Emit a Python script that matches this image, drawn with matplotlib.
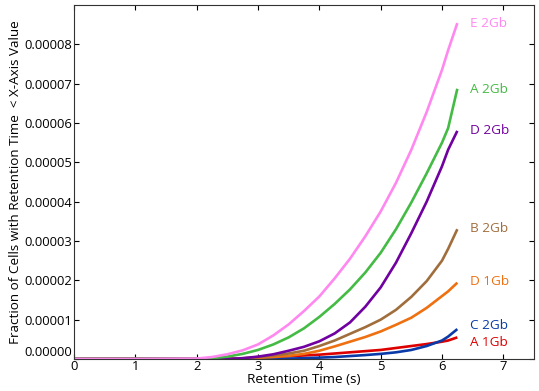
import matplotlib
matplotlib.use("Agg")
import matplotlib.pyplot as plt
import numpy as np

plt.rcParams['font.family'] = ['Open Sans', 'DejaVu Sans']

# Retention time grid (s) and series values (units of 1e-5)
x_vals = [0.0, 1.0, 2.0, 2.25, 2.5, 2.75, 3.0, 3.25, 3.5, 3.75, 4.0, 4.25,
          4.5, 4.75, 5.0, 5.25, 5.5, 5.75, 6.0, 6.1, 6.25]
series = {
    "E 2Gb": [0, 0, 0.01, 0.05, 0.12, 0.22, 0.37, 0.60, 0.88, 1.22, 1.59, 2.05,
              2.55, 3.12, 3.75, 4.48, 5.32, 6.28, 7.35, 7.85, 8.54],
    "A 2Gb": [0, 0, 0.0, 0.02, 0.06, 0.13, 0.23, 0.37, 0.55, 0.78, 1.07, 1.40,
              1.77, 2.20, 2.70, 3.30, 3.98, 4.72, 5.50, 5.87, 6.87],
    "D 2Gb": [0, 0, 0.0, 0.0, 0.0, 0.02, 0.06, 0.12, 0.21, 0.31, 0.45, 0.65,
              0.93, 1.33, 1.82, 2.45, 3.20, 4.00, 4.90, 5.32, 5.80],
    "B 2Gb": [0, 0, 0.0, 0.0, 0.0, 0.02, 0.05, 0.09, 0.14, 0.21, 0.33, 0.47,
              0.64, 0.81, 1.00, 1.25, 1.58, 1.98, 2.50, 2.80, 3.30],
    "D 1Gb": [0, 0, 0.0, 0.0, 0.0, 0.01, 0.03, 0.05, 0.08, 0.13, 0.21, 0.32,
              0.44, 0.56, 0.70, 0.87, 1.05, 1.30, 1.60, 1.72, 1.94],
    "C 2Gb": [0, 0, 0.0, 0.0, 0.0, 0.0, 0.0, 0.0, 0.01, 0.02, 0.035, 0.05,
              0.075, 0.10, 0.13, 0.17, 0.23, 0.33, 0.47, 0.57, 0.76],
    "A 1Gb": [0, 0, 0.0, 0.0, 0.0, 0.01, 0.03, 0.05, 0.07, 0.09, 0.11, 0.14,
              0.17, 0.20, 0.23, 0.28, 0.33, 0.38, 0.44, 0.47, 0.55],
}
colors = {
    "E 2Gb": "#ff88f0",
    "A 2Gb": "#44bb44",
    "D 2Gb": "#7000a0",
    "B 2Gb": "#a06e3c",
    "D 1Gb": "#ee7010",
    "C 2Gb": "#0a3aa8",
    "A 1Gb": "#dd0000",
}
label_y = {
    "E 2Gb": 8.54, "A 2Gb": 6.84, "D 2Gb": 5.80, "B 2Gb": 3.31,
    "D 1Gb": 1.96, "C 2Gb": 0.84, "A 1Gb": 0.43,
}
x_ticks = [0, 1, 2, 3, 4, 5, 6, 7]
y_ticks = [0, 1e-5, 2e-5, 3e-5, 4e-5, 5e-5, 6e-5, 7e-5, 8e-5]
y_ticklabels = ["0.00000", "0.00001", "0.00002", "0.00003", "0.00004",
                "0.00005", "0.00006", "0.00007", "0.00008"]

fig = plt.figure(figsize=(5.39, 3.91), dpi=100)
ax = fig.add_axes([74/539, 1 - 359/391, (534-74)/539, (359-5)/391])

order = ["A 1Gb", "C 2Gb", "D 1Gb", "B 2Gb", "D 2Gb", "A 2Gb", "E 2Gb"]
for name in order:
    vals = np.array(series[name]) * 1e-5
    ax.plot(x_vals, vals, color=colors[name], lw=1.9, solid_capstyle='butt',
            solid_joinstyle='round')
    ax.text(6.45, label_y[name] * 1e-5, name, color=colors[name],
            fontsize=9.7, va='center', ha='left')

ax.set_xlim(0, 7.5)
ax.set_ylim(0, 9e-5)
ax.set_xticks(x_ticks)
ax.set_yticks(y_ticks)
ax.set_yticklabels(y_ticklabels)
ax.tick_params(direction='in', top=True, right=True, labelsize=9.4,
               length=3.5, width=0.8, pad=1)
ax.get_yticklabels()[0].set_verticalalignment('bottom')
for s in ax.spines.values():
    s.set_linewidth(0.8)
    s.set_color('#333333')
ax.set_xlabel("Retention Time (s)", fontsize=9.7, labelpad=0)
ax.set_ylabel("Fraction of Cells with Retention Time  < X-Axis Value",
              fontsize=9.7, labelpad=2)

fig.savefig("out.png", dpi=100)
